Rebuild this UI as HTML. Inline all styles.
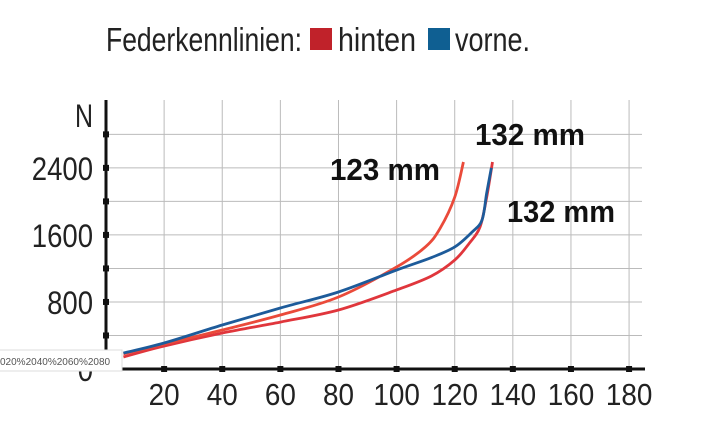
<!DOCTYPE html>
<html><head><meta charset="utf-8"><style>
html,body{margin:0;padding:0;background:#fff;}
svg{display:block;font-family:"Liberation Sans Narrow","Liberation Sans",sans-serif;}
</style></head><body>
<svg width="712" height="442" viewBox="0 0 712 442">
<g>
<text x="106" y="51" font-size="33" fill="#222" textLength="196" lengthAdjust="spacingAndGlyphs">Federkennlinien:</text>
<rect x="310" y="28" width="22" height="22" fill="#c0222a"/>
<text x="338" y="51" font-size="33" fill="#222" textLength="78" lengthAdjust="spacingAndGlyphs">hinten</text>
<rect x="428" y="28" width="22" height="22" fill="#0f5f92"/>
<text x="455" y="51" font-size="33" fill="#222" textLength="75" lengthAdjust="spacingAndGlyphs">vorne.</text>
</g>
<g id="grid"></g>
<g id="axes"></g>
<g id="series"></g>
<g font-weight="bold" font-size="31" fill="#111">
<text x="330" y="180" textLength="110" lengthAdjust="spacingAndGlyphs">123 mm</text>
<text x="475" y="145" textLength="110" lengthAdjust="spacingAndGlyphs">132 mm</text>
<text x="507" y="222" textLength="108" lengthAdjust="spacingAndGlyphs">132 mm</text>
</g>
<g>
<rect x="-2" y="350" width="124" height="21" fill="#fff" stroke="#ddd"/>
<text x="0" y="365" font-family="Liberation Sans, sans-serif" font-size="10" fill="#555">020%2040%2060%2080</text>
</g>
</svg>
<script>
const xTicks=[20,40,60,80,100,120,140,160,180];
const yTickLabels=[0,800,1600,2400];
const yMinor=[400,800,1200,1600,2000,2400,2800];
const hintenSoftX=[6,18.6,40,60,80,100,110,115,120,123];
const hintenSoftN=[180,286,465,644,859,1217,1460,1680,2050,2470];
const hintenHardX=[6,18.6,40,60,80,100,112,120,125,128.7,131,133];
const hintenHardN=[143,263,430,560,704,943,1110,1300,1500,1695,2050,2470];
const vorneX=[6,20,40,60,80,100,112,120,126,129.4,131,132.6];
const vorneN=[190,310,525,728,919,1181,1330,1456,1635,1778,2100,2400];
const NS='http://www.w3.org/2000/svg';
const X0=106,XS=2.906,Y0=369,YS=0.0838;
const sx=v=>X0+v*XS, sy=v=>Y0-v*YS;
function mk(tag,attrs,parent){const e=document.createElementNS(NS,tag);for(const k in attrs)e.setAttribute(k,attrs[k]);parent.appendChild(e);return e;}
const grid=document.getElementById('grid'),axes=document.getElementById('axes'),series=document.getElementById('series');
xTicks.forEach(t=>{
 const l=mk('line',{x1:sx(t),x2:sx(t),y1:100,y2:Y0,stroke:'#bbb','stroke-width':1},grid);
 
 
 const r=mk('rect',{x:sx(t)-3,y:Y0-3,width:6,height:6,fill:'#111'},axes);
 
 
 const s=String(t);
 const tx=mk('text',{x:sx(t),y:405,'font-size':31,fill:'#222','text-anchor':'middle',textLength:s.length*15.5,lengthAdjust:'spacingAndGlyphs'},axes);
 
 
 tx.textContent=s;
});
yMinor.forEach(t=>{
 const l=mk('line',{x1:X0,x2:642,y1:sy(t),y2:sy(t),stroke:'#bbb','stroke-width':1},grid);
 
 
 const r=mk('rect',{x:X0-3,y:sy(t)-3,width:6,height:6,fill:'#111'},axes);
 
 
});
yTickLabels.forEach(t=>{
 const s=String(t);
 const tx=mk('text',{x:93,y:sy(t)+12,'font-size':32,fill:'#222','text-anchor':'end',textLength:s.length*15.3,lengthAdjust:'spacingAndGlyphs'},axes);
 
 
 tx.textContent=s;
});
const yl=mk('text',{x:93,y:127,'font-size':32,fill:'#222','text-anchor':'end',textLength:18,lengthAdjust:'spacingAndGlyphs'},axes);


yl.textContent='N';
const ya=mk('line',{x1:X0,x2:X0,y1:100,y2:Y0+1,stroke:'#111','stroke-width':3},axes);


const xa=mk('line',{x1:X0,x2:645,y1:Y0,y2:Y0,stroke:'#111','stroke-width':3},axes);


function smoothPath(pts){
 let d='M'+pts[0][0]+','+pts[0][1];
 for(let i=0;i<pts.length-1;i++){
  const p0=pts[Math.max(0,i-1)],p1=pts[i],p2=pts[i+1],p3=pts[Math.min(pts.length-1,i+2)];
  const c1=[p1[0]+(p2[0]-p0[0])/6,p1[1]+(p2[1]-p0[1])/6];
  const c2=[p2[0]-(p3[0]-p1[0])/6,p2[1]-(p3[1]-p1[1])/6];
  d+=' C'+c1.join(',')+' '+c2.join(',')+' '+p2.join(',');
 }
 return d;
}
function line(xs,ns,color,name){
 const pts=xs.map((x,i)=>[sx(x),sy(ns[i])]);
 const p=mk('path',{d:smoothPath(pts),fill:'none',stroke:color,'stroke-width':2.8,'stroke-linejoin':'round'},series);
 
 
}
line(hintenHardX,hintenHardN,'#e0363c','line-hinten-132mm');
line(hintenSoftX,hintenSoftN,'#ea4a3a','line-hinten-123mm');
line(vorneX,vorneN,'#1d5b9a','line-vorne-132mm');
</script>
</body></html>
